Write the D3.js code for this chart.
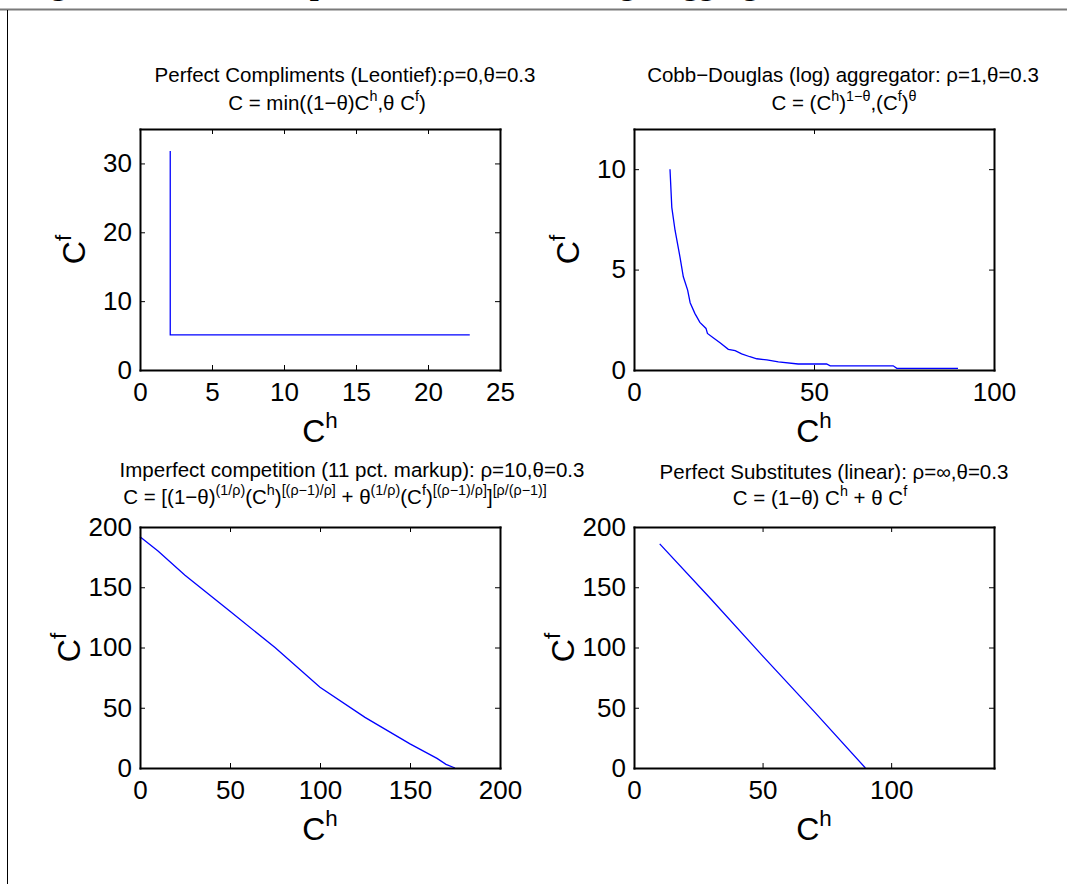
<!DOCTYPE html>
<html><head><meta charset="utf-8">
<script src="https://cdn.jsdelivr.net/npm/d3@7"></script>
<style>
body{margin:0;background:#fff}
svg{display:block}
text{font-family:"Liberation Sans",Arial,Helvetica,sans-serif;fill:#000}
</style>
</head><body>
<svg id="fig" width="1067" height="884"></svg>
<script>
// ---- isoquant data: home good C^h against foreign good C^f ----
// Perfect complements (Leontief)
const leontiefCh = [2.1, 2.1, 22.9];
const leontiefCf = [31.8, 5.1, 5.1];

// Cobb-Douglas
const cobbCh = [10.0, 10.5, 11.4, 12.8, 13.7, 14.9, 15.6, 16.9, 18.3, 20.0, 20.4, 22.0, 23.9, 26.2, 28.1, 29.9, 32.2, 34.1, 36.9, 40.1, 45.6, 53.5, 54.5, 72.0, 73.0, 90.0];
const cobbCf = [10.0, 8.1, 6.96, 5.6, 4.64, 3.98, 3.35, 2.82, 2.37, 2.07, 1.82, 1.61, 1.36, 1.03, 0.96, 0.80, 0.66, 0.56, 0.50, 0.40, 0.30, 0.30, 0.21, 0.21, 0.08, 0.08];

// Imperfect competition (CES, rho = 10)
const imperfectCh = [0, 10, 25, 50, 75, 100, 125, 150, 165, 170, 175];
const imperfectCf = [192, 180, 160, 130, 100, 67, 42, 20, 8, 3, 0];

// Perfect substitutes (linear)
const linearCh = [10, 30, 50, 70, 90];
const linearCf = [186, 140, 93, 47, 0];

// ---- tick values ----
const leontiefXTicks = [0, 5, 10, 15, 20, 25];
const leontiefYTicks = [0, 10, 20, 30];
const cobbXTicks = [0, 50, 100];
const cobbYTicks = [0, 5, 10];
const imperfectXTicks = [0, 50, 100, 150, 200];
const imperfectYTicks = [0, 50, 100, 150, 200];
const linearXTicks = [0, 50, 100];
const linearYTicks = [0, 50, 100, 150, 200];

// ---- titles as [text, isSuperscript] runs ----
const leontiefTitle = [[["Perfect Compliments (Leontief):ρ=0,θ=0.3", 0]],
  [["C = min((1−θ)C", 0], ["h", 1], [",θ C", 0], ["f", 1], [")", 0]]];
const cobbTitle = [[["Cobb−Douglas (log) aggregator: ρ=1,θ=0.3", 0]],
  [["C = (C", 0], ["h", 1], [")", 0], ["1−θ", 1], [",(C", 0], ["f", 1], [")", 0], ["θ", 1]]];
const imperfectTitle = [[["Imperfect competition (11 pct. markup): ρ=10,θ=0.3", 0]],
  [["C = [(1−θ)", 0], ["(1/ρ)", 1], ["(C", 0], ["h", 1], [")", 0], ["[(ρ−1)/ρ]", 1], [" + θ", 0], ["(1/ρ)", 1],
   ["(C", 0], ["f", 1], [")", 0], ["[(ρ−1)/ρ]", 1], ["]", 0], ["[ρ/(ρ−1)]", 1]]];
const linearTitle = [[["Perfect Substitutes (linear): ρ=∞,θ=0.3", 0]],
  [["C = (1−θ) C", 0], ["h", 1], [" + θ C", 0], ["f", 1]]];

const W = 1067, H = 884;
const PW = 360, PH = 241;
const svg = d3.select("#fig");

// page frame
svg.append("line").attr("x1", 0).attr("x2", W).attr("y1", 9.5).attr("y2", 9.5)
  .attr("stroke", "#7a7a7a").attr("stroke-width", 2);
svg.append("line").attr("x1", 7.5).attr("x2", 7.5).attr("y1", 10).attr("y2", H)
  .attr("stroke", "#000").attr("stroke-width", 1);

// figure caption (runs off the top edge of the page)
svg.append("text").attr("x", 22).attr("y", -6)
  .style("font-family", "'Liberation Serif','Times New Roman',serif")
  .style("font-weight", "bold").style("font-size", "32px")
  .text("Figure 1: Four Examples of the Home/Foreign Aggregator");

function richText(g, runs, x, y, size) {
  const t = g.append("text").attr("x", x).attr("y", y)
    .attr("text-anchor", "middle").style("font-size", size + "px");
  let raised = false;
  runs.forEach(([s, sup]) => {
    const ts = t.append("tspan").text(s);
    if (sup && !raised) { ts.attr("dy", -size * 0.45); raised = true; }
    else if (!sup && raised) { ts.attr("dy", size * 0.45); raised = false; }
    if (sup) ts.style("font-size", (size * 0.7) + "px");
  });
  return t;
}

const panels = [
  {left: 140, top: 129, xd: [0, 25], yd: [0, 35], xt: leontiefXTicks, yt: leontiefYTicks,
   ch: leontiefCh, cf: leontiefCf, title: leontiefTitle, t1: [345, 82], t2: [327, 110], yl: 55},
  {left: 634, top: 129, xd: [0, 100], yd: [0, 12], xt: cobbXTicks, yt: cobbYTicks,
   ch: cobbCh, cf: cobbCf, title: cobbTitle, t1: [843, 82], t2: [844, 110], yl: 55},
  {left: 140, top: 527, xd: [0, 200], yd: [0, 200], xt: imperfectXTicks, yt: imperfectYTicks,
   ch: imperfectCh, cf: imperfectCf, title: imperfectTitle, t1: [352, 477], t2: [335, 504], yl: 60},
  {left: 634, top: 527, xd: [0, 140], yd: [0, 200], xt: linearXTicks, yt: linearYTicks,
   ch: linearCh, cf: linearCf, title: linearTitle, t1: [834, 479], t2: [820, 505], yl: 60}
];

panels.forEach(p => {
  const x = d3.scaleLinear().domain(p.xd).range([p.left, p.left + PW]);
  const y = d3.scaleLinear().domain(p.yd).range([p.top + PH, p.top]);
  const g = svg.append("g");

  // isoquant
  const pts = p.ch.map((v, i) => [v, p.cf[i]]);
  g.append("path").datum(pts)
    .attr("d", d3.line().x(d => x(d[0])).y(d => y(d[1])))
    .attr("fill", "none").attr("stroke", "#0000ff").attr("stroke-width", 1.3);

  // axes with inward ticks on all four sides
  const styleAxis = sel => {
    sel.select(".domain").attr("stroke", "#000").attr("stroke-width", 2);
    sel.selectAll(".tick line").attr("stroke", "#000").attr("stroke-width", 1);
    sel.selectAll(".tick text").style("font-size", "26px")
      .style("font-family", "'Liberation Sans',Arial,sans-serif");
  };
  g.append("g").attr("transform", `translate(0,${p.top + PH})`)
    .call(d3.axisBottom(x).tickValues(p.xt).tickSize(-5).tickSizeOuter(0).tickPadding(13).tickFormat(d3.format("d")))
    .call(styleAxis);
  g.append("g").attr("transform", `translate(0,${p.top})`)
    .call(d3.axisTop(x).tickValues(p.xt).tickSize(-5).tickSizeOuter(0).tickFormat(""))
    .call(styleAxis);
  g.append("g").attr("transform", `translate(${p.left},0)`)
    .call(d3.axisLeft(y).tickValues(p.yt).tickSize(-5).tickSizeOuter(0).tickPadding(8).tickFormat(d3.format("d")))
    .call(styleAxis);
  g.append("g").attr("transform", `translate(${p.left + PW},0)`)
    .call(d3.axisRight(y).tickValues(p.yt).tickSize(-5).tickSizeOuter(0).tickFormat(""))
    .call(styleAxis);
  g.selectAll(".domain").attr("stroke-linecap", "square");

  // titles
  richText(g, p.title[0], p.t1[0], p.t1[1], 20.5);
  richText(g, p.title[1], p.t2[0], p.t2[1], 20.5);

  // axis labels
  richText(g, [["C", 0], ["h", 1]], p.left + PW / 2, p.top + PH + 72, 32);
  const yl = svg.append("g")
    .attr("transform", `translate(${p.left - p.yl},${p.top + PH / 2}) rotate(-90)`);
  richText(yl, [["C", 0], ["f", 1]], 0, 0, 32);
});
</script>
</body></html>
